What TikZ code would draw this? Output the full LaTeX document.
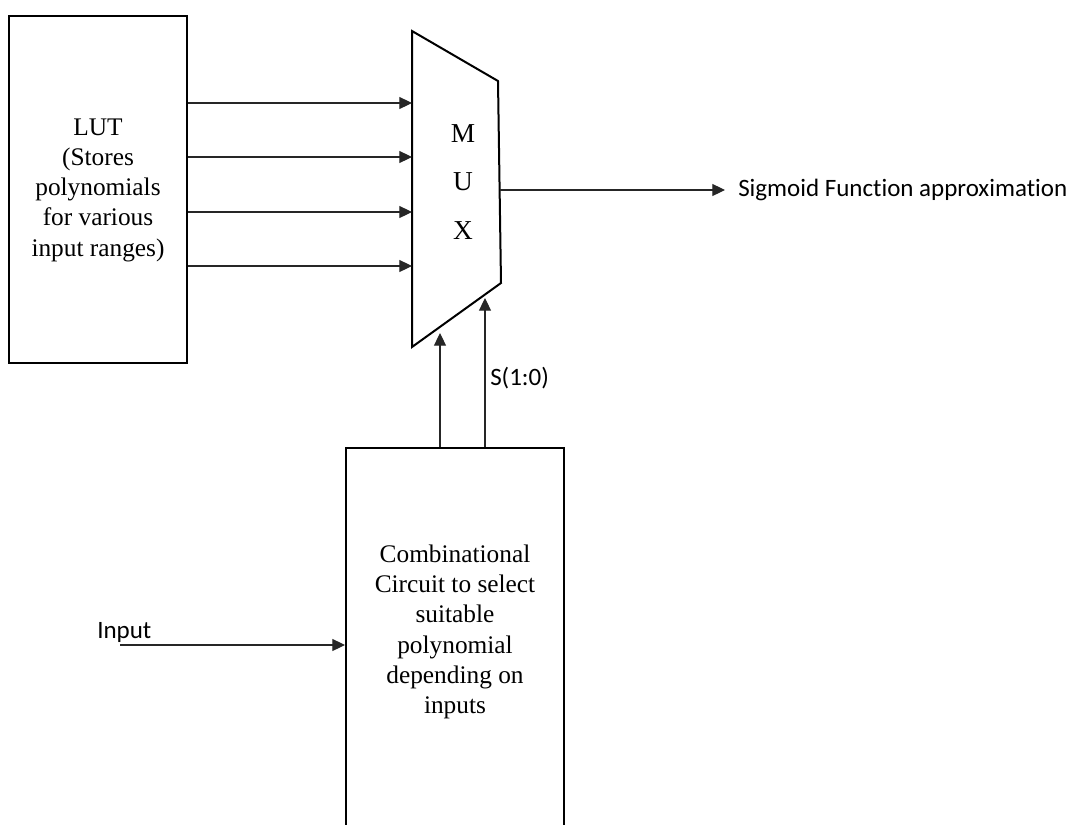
\documentclass[tikz,border=0pt]{standalone}
\usepackage{fontspec}
\setmainfont{Liberation Serif}
\newfontfamily\calibri[Ligatures=NoCommon]{Carlito}
\usetikzlibrary{arrows.meta}

\tikzset{
  blockbox/.style={draw, line width=1.5pt, inner sep=0pt},
  serifbig/.style={font=\fontsize{19pt}{22.7pt}\selectfont, align=center},
  sanslabel/.style={font=\calibri\fontsize{18.75pt}{22pt}\selectfont, inner sep=0pt},
  wire/.style={line width=0.8pt, draw=black!85,
    -{Triangle[length=9.5pt,width=9pt]}},
}

\begin{document}
\begin{tikzpicture}[x=0.75pt, y=-0.75pt]
  \clip (0,0) rectangle (1076,825);
  \fill[white] (0,0) rectangle (1076,825);

  % look-up table
  \node[blockbox, minimum width=133.5pt, minimum height=260.25pt] (lut) at (98,189.5) {};
  \node[serifbig] (luttext) at (98,190)
    {LUT\\(Stores\\polynomials\\for various\\input ranges)};

  % multiplexer outline
  \coordinate (mtl) at (412,31);
  \coordinate (mtr) at (498,81);
  \coordinate (mbr) at (501,283);
  \coordinate (mbl) at (412,347);
  \draw[line width=1.5pt, line join=miter] (mtl) -- (mtr) -- (mbr) -- (mbl) -- cycle;
  \node[font=\fontsize{20.5pt}{36.5pt}\selectfont, align=center] (muxtext) at (463,182) {M\\U\\X};

  % data inputs of the multiplexer
  \foreach \i/\y in {1/103,2/157,3/212,4/266} {
    \coordinate (min\i) at (412,\y);
    \draw[wire] (lut.east |- min\i) -- (min\i);
  }

  % output
  \coordinate (mout) at (500,190);
  \node[sanslabel, anchor=west, inner xsep=9.75pt] (sig) at (725,190) {Sigmoid Function approximation};
  \draw[wire] (mout) -- (sig.west);

  % selection logic (box runs past the lower edge)
  \node[blockbox, minimum width=163.5pt, minimum height=300pt] (comb) at (455,648) {};
  \node[serifbig] (combtext) at (455,632)
    {Combinational\\Circuit to select\\suitable\\polynomial\\depending on\\inputs};

  % select lines
  \coordinate (sel1) at (440,333);
  \coordinate (sel0) at (485,298);
  \draw[wire] (comb.north -| sel1) -- (sel1);
  \draw[wire] (comb.north -| sel0) -- (sel0);
  \node[sanslabel, anchor=west] (slabel) at (490,378) {S(1:0)};

  % input
  \node[sanslabel, anchor=west] (inp) at (97,632) {Input};
  \coordinate (instart) at (120,645);
  \draw[wire] (instart) -- (comb.west |- instart);
\end{tikzpicture}
\end{document}
